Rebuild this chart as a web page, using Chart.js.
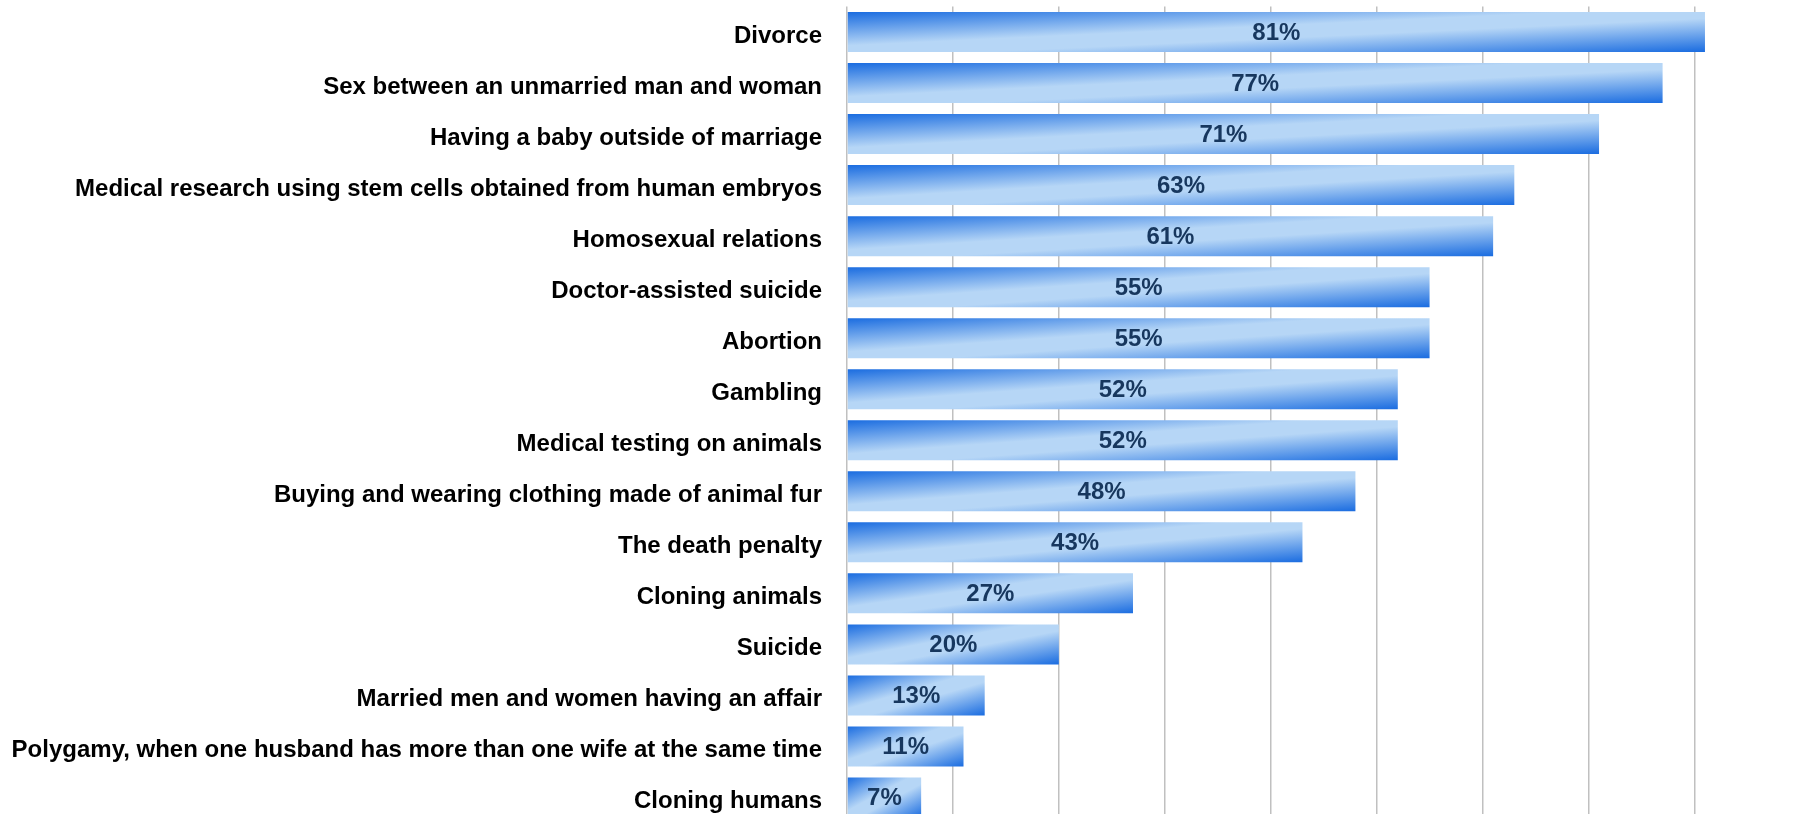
<!DOCTYPE html>
<html><head><meta charset="utf-8">
<script src="https://cdn.jsdelivr.net/npm/chart.js@4"></script>
<style>
html,body{margin:0;padding:0;background:#fff;overflow:hidden;}
#wrap{width:1795px;height:814px;overflow:hidden;position:relative;}
#c{position:absolute;left:0;top:0;}
</style></head><body>
<div id="wrap"><canvas id="c" width="1795" height="823"></canvas></div>
<script>
const categories = [
  "Divorce",
  "Sex between an unmarried man and woman",
  "Having a baby outside of marriage",
  "Medical research using stem cells obtained from human embryos",
  "Homosexual relations",
  "Doctor-assisted suicide",
  "Abortion",
  "Gambling",
  "Medical testing on animals",
  "Buying and wearing clothing made of animal fur",
  "The death penalty",
  "Cloning animals",
  "Suicide",
  "Married men and women having an affair",
  "Polygamy, when one husband has more than one wife at the same time",
  "Cloning humans"
];
const values = [81, 77, 71, 63, 61, 55, 55, 52, 52, 48, 43, 27, 20, 13, 11, 7];
const valueLabels = values.map(v => v + "%");
const tickValues = [0, 10, 20, 30, 40, 50, 60, 70, 80];

const FONT = '"Liberation Sans", Arial, sans-serif';
const DARK = '#1a6ce0';
const LIGHT = '#b6d6f6';
const CAT_PCT = 0.8, BAR_PCT = 0.98;

function barGradient(ctx) {
  const chart = ctx.chart;
  const xs = chart.scales.x, ys = chart.scales.y;
  if (!chart.chartArea || !xs || !ys) return '#7aaae8';
  const i = ctx.dataIndex;
  const v = ctx.dataset.data[i];
  const x0 = xs.getPixelForValue(0), x1 = xs.getPixelForValue(v);
  const band = Math.abs(ys.getPixelForValue(1) - ys.getPixelForValue(0));
  const h = band * CAT_PCT * BAR_PCT;
  const y0 = ys.getPixelForValue(i) - h / 2;
  const W = Math.max(1, x1 - x0), H = h;
  const k = 2 * W * H / (W * W + H * H);
  const g = chart.ctx.createLinearGradient(x0, y0, x0 + H * k, y0 + W * k);
  g.addColorStop(0, DARK);
  g.addColorStop(0.42, LIGHT);
  g.addColorStop(0.58, LIGHT);
  g.addColorStop(1, DARK);
  return g;
}

const labelPlugin = {
  id: 'valueLabelsPlugin',
  afterDatasetsDraw(chart) {
    const c = chart.ctx;
    const meta = chart.getDatasetMeta(0);
    c.save();
    c.font = 'bold 24px ' + FONT;
    c.fillStyle = '#17375e';
    c.textAlign = 'center';
    c.textBaseline = 'middle';
    meta.data.forEach((bar, i) => {
      c.fillText(valueLabels[i], (bar.x + bar.base) / 2, bar.y + 1);
    });
    c.restore();
  }
};

new Chart(document.getElementById('c'), {
  type: 'bar',
  data: {
    labels: categories,
    datasets: [{
      data: values,
      backgroundColor: barGradient,
      borderWidth: 0,
      categoryPercentage: CAT_PCT,
      barPercentage: BAR_PCT
    }]
  },
  options: {
    indexAxis: 'y',
    responsive: false,
    maintainAspectRatio: false,
    animation: false,
    devicePixelRatio: 1,
    layout: { padding: { top: 6.5, left: 0, right: 0, bottom: 0 } },
    plugins: { legend: { display: false }, tooltip: { enabled: false }, title: { display: false } },
    scales: {
      x: {
        min: 0, max: 89.5,
        afterBuildTicks: s => { s.ticks = tickValues.map(v => ({ value: v })); },
        afterFit: s => { s.height = 0; s.paddingLeft = 0; s.paddingRight = 0; s.paddingTop = 0; s.paddingBottom = 0; },
        grid: { color: '#c0c0c0', lineWidth: 1.5, drawTicks: false },
        border: { display: false },
        ticks: { display: false }
      },
      y: {
        afterFit: s => { s.width = 847; s.paddingTop = 0; s.paddingBottom = 0; s.paddingLeft = 0; s.paddingRight = 0; },
        grid: { display: false, drawTicks: false },
        border: { display: false },
        ticks: {
          autoSkip: false,
          color: '#000',
          padding: 25,
          labelOffset: 4,
          font: { family: FONT, size: 24, weight: 'bold' }
        }
      }
    }
  },
  plugins: [labelPlugin]
});
</script>
</body></html>
